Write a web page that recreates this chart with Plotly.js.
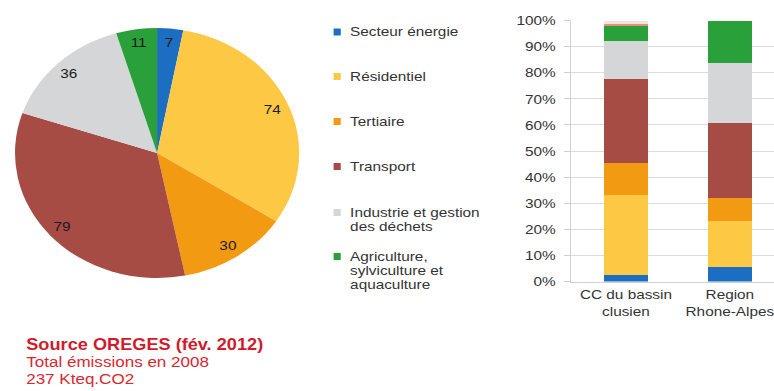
<!DOCTYPE html>
<html>
<head>
<meta charset="utf-8">
<script src="https://cdn.plot.ly/plotly-3.0.1.min.js"></script>
<style>
  html, body { margin: 0; padding: 0; background: #fff; overflow: hidden; }
  #wrap { width: 774px; height: 391px; overflow: hidden; }
  /* the slide is drawn slightly condensed and widened afterwards */
  #chart { width: 681px; height: 391px; transform: scaleX(1.1366); transform-origin: 0 0; }
</style>
</head>
<body>
<div id="wrap"><div id="chart"></div></div>
<script>
// Sectors (pie slices, legend entries, bar segments)
const sectors = ['Secteur énergie', 'Résidentiel', 'Tertiaire', 'Transport',
                 'Industrie et gestion des déchets', 'Agriculture, sylviculture et aquaculture'];
const legendLines = [['Secteur énergie'], ['Résidentiel'], ['Tertiaire'], ['Transport'],
                     ['Industrie et gestion', 'des déchets'],
                     ['Agriculture,', 'sylviculture et', 'aquaculture']];
const sectorColors = ['#1b6ec2', '#fdc844', '#f29a12', '#a74b45', '#d5d6d8', '#2aa03a'];

// Emissions 2008, kteq CO2 (total 237)
const emissionsKteq = [7, 74, 30, 79, 36, 11];

// Share of emissions by territory, %
const territories = ['CC du bassin<br>clusien', 'Region<br>Rhone-Alpes'];
const shareEnergie     = [2.6, 5.5];
const shareResidentiel = [30.7, 17.7];
const shareTertiaire   = [12.1, 8.8];
const shareTransport   = [32.2, 28.6];
const shareIndustrie   = [14.7, 23.0];
const shareAgriculture = [5.6, 16.4];
const shareAutres      = [0.8, 0];
const shareNonAffecte  = [1.3, 0];
const extraNames  = ['Autres', 'Non affecté'];
const extraColors = ['#e9907a', '#efe4e0'];

const yTicks = [0, 10, 20, 30, 40, 50, 60, 70, 80, 90, 100];

const noteLines = ['Source OREGES (fév. 2012)', 'Total émissions en 2008', '237 Kteq.CO2'];

// ---- layout helpers (pixel -> paper) ----
const W = 681, H = 391;
const px = x => x / W;
const py = y => 1 - y / H;
const font = 'Arial, "Liberation Sans", sans-serif';

const pieDomain = { x: [px(13.2), px(263.2)], y: [py(278), py(28)] };

const pie = {
  type: 'pie',
  labels: sectors,
  values: emissionsKteq,
  sort: false,
  direction: 'clockwise',
  rotation: 0,
  marker: { colors: sectorColors, line: { width: 0 } },
  textinfo: 'none',
  domain: pieDomain,
  showlegend: false,
  hoverinfo: 'label+value'
};

const barSeries = [shareEnergie, shareResidentiel, shareTertiaire, shareTransport,
                   shareIndustrie, shareAgriculture];
const bars = barSeries.map((vals, i) => ({
  type: 'bar', x: territories, y: vals, name: sectors[i],
  marker: { color: sectorColors[i] }, width: 0.42,
  xaxis: 'x', yaxis: 'y', showlegend: false
}));
[shareAutres, shareNonAffecte].forEach((vals, i) => bars.push({
  type: 'bar', x: territories, y: vals, name: extraNames[i],
  marker: { color: extraColors[i] }, width: 0.42,
  xaxis: 'x', yaxis: 'y', showlegend: false
}));

const annotations = [];
const shapes = [];

// value labels near the rim of each slice, placed on a unit frame laid over the pie
const total = emissionsKteq.reduce((a, b) => a + b, 0);
const labelRadius = 0.89;
let cum = 0;
emissionsKteq.forEach(v => {
  const mid = (cum + v / 2) / total * 2 * Math.PI;
  cum += v;
  annotations.push({
    text: String(v), xref: 'x2', yref: 'y2',
    x: labelRadius * Math.sin(mid), y: labelRadius * Math.cos(mid),
    xanchor: 'center', yanchor: 'middle', showarrow: false,
    font: { family: font, size: 13.5, color: '#1a1a1a' }
  });
});

// legend drawn as squares + text
const legendY = [32, 76.5, 121.5, 166.5, 212.5, 256.5];
const lineStep = 14.2;
legendLines.forEach((lines, i) => {
  shapes.push({
    type: 'rect', xref: 'paper', yref: 'paper',
    x0: px(293.5), x1: px(299.8), y0: py(legendY[i] + 3.5), y1: py(legendY[i] - 3.5),
    fillcolor: sectorColors[i], line: { width: 0 }
  });
  lines.forEach((t, k) => annotations.push({
    text: t, xref: 'paper', yref: 'paper', x: px(305.5), y: py(legendY[i] + k * lineStep),
    xanchor: 'left', yanchor: 'middle', showarrow: false,
    font: { family: font, size: 13.5, color: '#333333' }
  }));
});

// source note
const noteY = [344.5, 361.5, 378];
noteLines.forEach((t, k) => annotations.push({
  text: k === 0 ? '<b>' + t + '</b>' : t,
  xref: 'paper', yref: 'paper', x: px(21), y: py(noteY[k]),
  xanchor: 'left', yanchor: 'middle', showarrow: false,
  font: { family: font, size: k === 0 ? 16 : 15, color: k === 0 ? '#cf1b2b' : '#d9262f' }
}));

const layout = {
  width: W, height: H,
  margin: { l: 0, r: 0, t: 0, b: 0 },
  paper_bgcolor: '#ffffff', plot_bgcolor: '#ffffff',
  barmode: 'stack',
  xaxis: {
    domain: [px(502.6), 1], range: [-0.526, 1.425],
    type: 'category', showgrid: false, zeroline: false,
    showline: true, linecolor: '#cfcfcf', linewidth: 1,
    ticks: '', tickfont: { family: font, size: 13.5, color: '#333333' },
    fixedrange: true
  },
  yaxis: {
    domain: [py(281.5), py(20.5)], range: [0, 100],
    tickvals: yTicks, ticktext: yTicks.map(v => v + '%'),
    showgrid: true, gridcolor: '#dcdcdc', gridwidth: 1, zeroline: false,
    showline: true, linecolor: '#cfcfcf', linewidth: 1,
    ticks: 'outside', ticklen: 5, tickcolor: '#cfcfcf',
    ticklabelstandoff: 5,
    tickfont: { family: font, size: 13.5, color: '#333333' },
    fixedrange: true
  },
  // invisible unit frame over the pie, used to place the slice labels
  xaxis2: { domain: pieDomain.x, range: [-1, 1], visible: false, fixedrange: true, anchor: 'y2' },
  yaxis2: { domain: pieDomain.y, range: [-1, 1], visible: false, fixedrange: true, anchor: 'x2' },
  annotations: annotations,
  shapes: shapes,
  showlegend: false
};

Plotly.newPlot('chart', [pie].concat(bars), layout, { displayModeBar: false, staticPlot: true });
</script>
</body>
</html>
